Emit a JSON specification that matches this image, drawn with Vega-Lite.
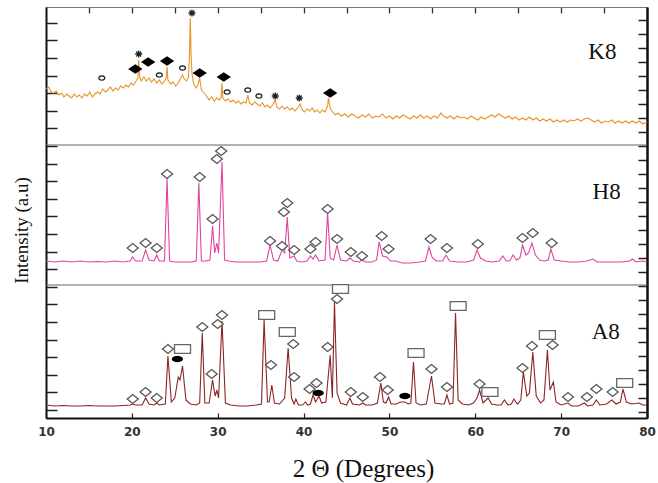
{
"$schema": "https://vega.github.io/schema/vega-lite/v6.json",
"width": 601, "height": 411,
"autosize": {"type": "none"},
"padding": {"left": 46, "top": 7, "right": 11, "bottom": 65},
"background": "white",
"config": {"view": {"stroke": "#555", "strokeWidth": 1}},
"datasets": {
"k8": [{"x":10,"y":329},{"x":10.3,"y":331},{"x":10.6,"y":326},{"x":10.9,"y":325},{"x":11.2,"y":327},{"x":11.5,"y":323},{"x":11.8,"y":325},{"x":12.1,"y":321},{"x":12.4,"y":324},{"x":12.7,"y":322},{"x":13,"y":320},{"x":13.3,"y":324},{"x":13.6,"y":321},{"x":13.9,"y":323},{"x":14.2,"y":320},{"x":14.5,"y":324},{"x":14.8,"y":322},{"x":15.1,"y":326},{"x":15.4,"y":321},{"x":15.7,"y":324},{"x":16,"y":326},{"x":16.3,"y":324},{"x":16.6,"y":329},{"x":16.9,"y":326},{"x":17.2,"y":328},{"x":17.5,"y":331},{"x":17.8,"y":327},{"x":18.1,"y":330},{"x":18.4,"y":328},{"x":18.7,"y":332},{"x":19,"y":330},{"x":19.3,"y":333},{"x":19.6,"y":331},{"x":19.9,"y":335},{"x":20.2,"y":333},{"x":20.5,"y":337},{"x":20.7,"y":340},{"x":20.8,"y":358},{"x":20.9,"y":342},{"x":21.1,"y":337},{"x":21.4,"y":341},{"x":21.7,"y":337},{"x":22,"y":340},{"x":22.3,"y":336},{"x":22.6,"y":339},{"x":22.9,"y":335},{"x":23.2,"y":338},{"x":23.5,"y":334},{"x":23.8,"y":337},{"x":24.0,"y":340},{"x":24.1,"y":351},{"x":24.2,"y":338},{"x":24.5,"y":334},{"x":24.8,"y":336},{"x":25.1,"y":332},{"x":25.4,"y":335},{"x":25.7,"y":340},{"x":25.9,"y":343},{"x":26.1,"y":339},{"x":26.4,"y":337},{"x":26.6,"y":341},{"x":26.7,"y":360},{"x":26.8,"y":400},{"x":26.9,"y":362},{"x":27.0,"y":345},{"x":27.2,"y":334},{"x":27.5,"y":330},{"x":27.7,"y":333},{"x":27.9,"y":340},{"x":28.1,"y":328},{"x":28.4,"y":325},{"x":28.7,"y":322},{"x":29,"y":318},{"x":29.3,"y":321},{"x":29.6,"y":317},{"x":29.9,"y":320},{"x":30.2,"y":318},{"x":30.4,"y":321},{"x":30.5,"y":335},{"x":30.6,"y":320},{"x":30.9,"y":317},{"x":31.2,"y":319},{"x":31.5,"y":316},{"x":31.8,"y":318},{"x":32.1,"y":315},{"x":32.4,"y":317},{"x":32.7,"y":314},{"x":33,"y":316},{"x":33.3,"y":315},{"x":33.5,"y":323},{"x":33.7,"y":315},{"x":34,"y":313},{"x":34.3,"y":316},{"x":34.6,"y":314},{"x":34.9,"y":312},{"x":35.2,"y":315},{"x":35.5,"y":311},{"x":35.8,"y":313},{"x":36.1,"y":310},{"x":36.4,"y":313},{"x":36.7,"y":318},{"x":36.9,"y":311},{"x":37.2,"y":309},{"x":37.5,"y":312},{"x":37.8,"y":309},{"x":38.1,"y":311},{"x":38.4,"y":308},{"x":38.7,"y":310},{"x":39,"y":307},{"x":39.3,"y":310},{"x":39.6,"y":314},{"x":39.8,"y":309},{"x":40.1,"y":306},{"x":40.4,"y":309},{"x":40.7,"y":307},{"x":41,"y":310},{"x":41.3,"y":306},{"x":41.6,"y":308},{"x":41.9,"y":305},{"x":42.2,"y":308},{"x":42.5,"y":306},{"x":42.8,"y":312},{"x":42.9,"y":320},{"x":43.1,"y":310},{"x":43.4,"y":306},{"x":43.7,"y":303},{"x":44,"y":305},{"x":44.4,"y":302},{"x":44.8,"y":304},{"x":45.2,"y":301},{"x":45.6,"y":304},{"x":46,"y":302},{"x":46.4,"y":300},{"x":46.8,"y":303},{"x":47.2,"y":301},{"x":47.6,"y":304},{"x":48,"y":300},{"x":48.4,"y":302},{"x":48.8,"y":301},{"x":49.2,"y":304},{"x":49.6,"y":300},{"x":50,"y":302},{"x":50.4,"y":299},{"x":50.8,"y":302},{"x":51.2,"y":300},{"x":51.6,"y":303},{"x":52,"y":301},{"x":52.4,"y":299},{"x":52.8,"y":302},{"x":53.2,"y":300},{"x":53.6,"y":303},{"x":54,"y":300},{"x":54.4,"y":302},{"x":54.8,"y":299},{"x":55.2,"y":302},{"x":55.6,"y":300},{"x":56,"y":305},{"x":56.3,"y":302},{"x":56.7,"y":300},{"x":57.1,"y":302},{"x":57.5,"y":299},{"x":57.9,"y":302},{"x":58.3,"y":300},{"x":58.7,"y":301},{"x":59.1,"y":299},{"x":59.5,"y":302},{"x":59.9,"y":300},{"x":60.3,"y":298},{"x":60.7,"y":301},{"x":61.1,"y":299},{"x":61.5,"y":301},{"x":61.9,"y":303},{"x":62.3,"y":301},{"x":62.7,"y":304},{"x":63.1,"y":302},{"x":63.5,"y":300},{"x":63.9,"y":302},{"x":64.3,"y":299},{"x":64.7,"y":301},{"x":65.1,"y":298},{"x":65.5,"y":300},{"x":65.9,"y":298},{"x":66.3,"y":301},{"x":66.7,"y":298},{"x":67.1,"y":300},{"x":67.5,"y":297},{"x":67.9,"y":299},{"x":68.3,"y":297},{"x":68.7,"y":299},{"x":69.1,"y":296},{"x":69.5,"y":298},{"x":69.9,"y":296},{"x":70.3,"y":298},{"x":70.7,"y":296},{"x":71.1,"y":298},{"x":71.5,"y":297},{"x":71.9,"y":299},{"x":72.3,"y":297},{"x":72.7,"y":299},{"x":73.1,"y":300},{"x":73.5,"y":298},{"x":73.9,"y":296},{"x":74.3,"y":298},{"x":74.7,"y":295},{"x":75.1,"y":297},{"x":75.5,"y":296},{"x":75.9,"y":298},{"x":76.3,"y":295},{"x":76.7,"y":297},{"x":77.1,"y":295},{"x":77.5,"y":297},{"x":77.9,"y":295},{"x":78.3,"y":297},{"x":78.7,"y":295},{"x":79.1,"y":297},{"x":79.5,"y":294},{"x":80,"y":296}],
"h8": [{"x":10,"y":157},{"x":11,"y":156},{"x":12,"y":157},{"x":13,"y":156},{"x":14,"y":157},{"x":15,"y":156},{"x":16,"y":156.5},{"x":17,"y":156},{"x":18,"y":157},{"x":19,"y":156},{"x":19.8,"y":157},{"x":20.1,"y":161},{"x":20.4,"y":157},{"x":21.2,"y":157},{"x":21.6,"y":168},{"x":22.0,"y":158},{"x":22.6,"y":157},{"x":22.9,"y":163},{"x":23.2,"y":157},{"x":23.8,"y":157},{"x":24.1,"y":239},{"x":24.4,"y":157},{"x":25,"y":156},{"x":26,"y":156},{"x":27,"y":156},{"x":27.5,"y":157},{"x":27.8,"y":235},{"x":28.1,"y":157},{"x":28.6,"y":157},{"x":29.1,"y":158},{"x":29.4,"y":192},{"x":29.65,"y":165},{"x":29.9,"y":175},{"x":30.1,"y":165},{"x":30.5,"y":256},{"x":30.8,"y":158},{"x":31.3,"y":157},{"x":32,"y":156},{"x":33,"y":156},{"x":34,"y":156},{"x":35,"y":156},{"x":35.7,"y":157},{"x":36.1,"y":173},{"x":36.5,"y":158},{"x":37,"y":157},{"x":37.5,"y":168},{"x":37.8,"y":165},{"x":38.1,"y":201},{"x":38.4,"y":160},{"x":38.9,"y":162},{"x":39.2,"y":157},{"x":39.8,"y":156},{"x":40.4,"y":157},{"x":40.8,"y":162},{"x":41.1,"y":159},{"x":41.4,"y":163},{"x":41.8,"y":157},{"x":42.5,"y":158},{"x":42.8,"y":205},{"x":43.1,"y":160},{"x":43.5,"y":158},{"x":43.9,"y":173},{"x":44.3,"y":158},{"x":45,"y":157},{"x":45.4,"y":160},{"x":45.8,"y":157},{"x":46.5,"y":156},{"x":46.8,"y":158},{"x":47.2,"y":156},{"x":48,"y":156},{"x":48.5,"y":158},{"x":48.8,"y":176},{"x":49.2,"y":162},{"x":49.7,"y":161},{"x":50.1,"y":157},{"x":50.7,"y":157},{"x":51.5,"y":155},{"x":52.5,"y":155},{"x":53.5,"y":156},{"x":54.2,"y":157},{"x":54.6,"y":171},{"x":55,"y":160},{"x":55.5,"y":157},{"x":56.2,"y":157},{"x":56.6,"y":163},{"x":57,"y":157},{"x":58,"y":156},{"x":59,"y":156},{"x":59.8,"y":158},{"x":60.2,"y":168},{"x":60.6,"y":160},{"x":61.2,"y":157},{"x":62,"y":156},{"x":62.8,"y":157},{"x":63.2,"y":162},{"x":63.6,"y":157},{"x":64,"y":157},{"x":64.4,"y":163},{"x":64.8,"y":158},{"x":65.2,"y":160},{"x":65.5,"y":173},{"x":65.9,"y":163},{"x":66.2,"y":165},{"x":66.6,"y":175},{"x":67,"y":163},{"x":67.5,"y":158},{"x":68,"y":157},{"x":68.5,"y":158},{"x":68.8,"y":169},{"x":69.2,"y":158},{"x":70,"y":157},{"x":71,"y":156},{"x":72,"y":156},{"x":73,"y":157},{"x":73.7,"y":159},{"x":74.2,"y":156},{"x":75,"y":156},{"x":76,"y":156},{"x":77,"y":156},{"x":78,"y":157},{"x":78.3,"y":159},{"x":78.7,"y":156},{"x":79.5,"y":157},{"x":80,"y":156}],
"a8": [{"x":10,"y":13},{"x":11,"y":12},{"x":12,"y":12.5},{"x":13,"y":12},{"x":14,"y":12},{"x":15,"y":12.5},{"x":16,"y":12},{"x":17,"y":12},{"x":18,"y":12},{"x":19,"y":12.5},{"x":19.8,"y":13},{"x":20.1,"y":14},{"x":20.4,"y":13},{"x":21.2,"y":13},{"x":21.6,"y":20},{"x":22.0,"y":14},{"x":22.6,"y":13},{"x":22.9,"y":15},{"x":23.2,"y":13},{"x":23.9,"y":14},{"x":24.2,"y":62},{"x":24.6,"y":16},{"x":25.0,"y":20},{"x":25.4,"y":41},{"x":25.6,"y":38},{"x":25.9,"y":52},{"x":26.3,"y":18},{"x":26.8,"y":14},{"x":27.5,"y":13},{"x":27.9,"y":15},{"x":28.2,"y":85},{"x":28.5,"y":15},{"x":29.0,"y":15},{"x":29.4,"y":38},{"x":29.7,"y":22},{"x":29.9,"y":28},{"x":30.1,"y":20},{"x":30.5,"y":97},{"x":30.9,"y":15},{"x":31.5,"y":13},{"x":32.5,"y":12},{"x":33.5,"y":12},{"x":34.5,"y":13},{"x":35.1,"y":14},{"x":35.4,"y":98},{"x":35.8,"y":16},{"x":36.0,"y":16},{"x":36.3,"y":33},{"x":36.6,"y":15},{"x":37.2,"y":14},{"x":37.8,"y":20},{"x":38.2,"y":70},{"x":38.6,"y":20},{"x":38.9,"y":14},{"x":39.1,"y":19},{"x":39.4,"y":13},{"x":39.9,"y":13},{"x":40.2,"y":16},{"x":40.5,"y":13},{"x":40.8,"y":14},{"x":41.1,"y":23},{"x":41.4,"y":16},{"x":41.8,"y":22},{"x":42.1,"y":15},{"x":42.6,"y":16},{"x":43.1,"y":63},{"x":43.35,"y":20},{"x":43.6,"y":116},{"x":43.9,"y":25},{"x":44.3,"y":15},{"x":45,"y":13},{"x":45.4,"y":20},{"x":45.7,"y":14},{"x":46.5,"y":13},{"x":46.9,"y":15},{"x":47.2,"y":13},{"x":48,"y":13},{"x":48.6,"y":15},{"x":49.0,"y":35},{"x":49.3,"y":16},{"x":49.6,"y":15},{"x":49.9,"y":21},{"x":50.2,"y":14},{"x":50.8,"y":14},{"x":51.3,"y":16},{"x":51.8,"y":16},{"x":52.2,"y":14},{"x":52.5,"y":15},{"x":52.8,"y":56},{"x":53.1,"y":15},{"x":53.6,"y":13},{"x":54.3,"y":14},{"x":54.9,"y":42},{"x":55.3,"y":15},{"x":56,"y":14},{"x":56.4,"y":14},{"x":56.7,"y":23},{"x":57.0,"y":14},{"x":57.4,"y":15},{"x":57.7,"y":105},{"x":58.0,"y":18},{"x":58.5,"y":14},{"x":59.2,"y":13},{"x":59.8,"y":15},{"x":60.2,"y":20},{"x":60.5,"y":28},{"x":60.9,"y":15},{"x":61.5,"y":20},{"x":61.9,"y":14},{"x":62.5,"y":13},{"x":63.0,"y":13},{"x":63.4,"y":18},{"x":63.8,"y":13},{"x":64.2,"y":14},{"x":64.5,"y":19},{"x":64.9,"y":14},{"x":65.3,"y":18},{"x":65.6,"y":46},{"x":66.0,"y":22},{"x":66.3,"y":25},{"x":66.7,"y":66},{"x":67.1,"y":22},{"x":67.6,"y":15},{"x":68.0,"y":18},{"x":68.4,"y":68},{"x":68.7,"y":28},{"x":69.1,"y":36},{"x":69.4,"y":16},{"x":70,"y":13},{"x":70.8,"y":15},{"x":71.2,"y":12},{"x":72,"y":12},{"x":72.7,"y":15},{"x":73.1,"y":12},{"x":73.7,"y":13},{"x":74.1,"y":18},{"x":74.5,"y":13},{"x":75.3,"y":14},{"x":75.9,"y":18},{"x":76.4,"y":14},{"x":76.9,"y":16},{"x":77.2,"y":29},{"x":77.6,"y":16},{"x":78.2,"y":14},{"x":79.1,"y":15},{"x":79.5,"y":13},{"x":80,"y":13}],
"marks": [
{"x":16.5,"y":340,"m":"oc"},{"x":20.4,"y":349,"m":"fd"},{"x":20.8,"y":364,"m":"as"},{"x":21.9,"y":356,"m":"fd"},{"x":23.2,"y":343,"m":"oc"},{"x":24.1,"y":357,"m":"fd"},{"x":25.9,"y":350,"m":"oc"},{"x":27.0,"y":405,"m":"as"},{"x":27.9,"y":345,"m":"fd"},{"x":30.7,"y":341,"m":"fd"},{"x":31.1,"y":326,"m":"oc"},{"x":33.5,"y":328,"m":"oc"},{"x":34.8,"y":322,"m":"oc"},{"x":36.7,"y":322,"m":"as"},{"x":39.5,"y":320,"m":"as"},{"x":43.1,"y":325,"m":"fd"},
{"x":20.1,"y":170,"m":"od"},{"x":21.6,"y":175,"m":"od"},{"x":22.9,"y":170,"m":"od"},{"x":24.1,"y":244,"m":"od"},{"x":27.9,"y":241,"m":"od"},{"x":29.4,"y":199,"m":"od"},{"x":29.9,"y":259,"m":"od"},{"x":30.4,"y":267,"m":"od"},{"x":36.1,"y":177,"m":"od"},{"x":37.5,"y":172,"m":"od"},{"x":37.7,"y":206,"m":"od"},{"x":38.1,"y":215,"m":"od"},{"x":38.9,"y":168,"m":"od"},{"x":40.8,"y":169,"m":"od"},{"x":41.4,"y":176,"m":"od"},{"x":42.8,"y":209,"m":"od"},{"x":43.9,"y":179,"m":"od"},{"x":45.5,"y":166,"m":"od"},{"x":46.8,"y":162,"m":"od"},{"x":49.1,"y":182,"m":"od"},{"x":49.9,"y":169,"m":"od"},{"x":54.8,"y":179,"m":"od"},{"x":56.7,"y":170,"m":"od"},{"x":60.3,"y":174,"m":"od"},{"x":65.5,"y":180,"m":"od"},{"x":66.7,"y":185,"m":"od"},{"x":68.9,"y":175,"m":"od"},
{"x":20.1,"y":19,"m":"od"},{"x":21.6,"y":26,"m":"od"},{"x":22.9,"y":20,"m":"od"},{"x":24.2,"y":69,"m":"od"},{"x":28.2,"y":91,"m":"od"},{"x":29.3,"y":44,"m":"od"},{"x":30.0,"y":94,"m":"od"},{"x":30.5,"y":103,"m":"od"},{"x":36.2,"y":53,"m":"od"},{"x":38.8,"y":74,"m":"od"},{"x":38.9,"y":41,"m":"od"},{"x":40.7,"y":29,"m":"od"},{"x":41.5,"y":35,"m":"od"},{"x":42.8,"y":71,"m":"od"},{"x":43.9,"y":119,"m":"od"},{"x":45.5,"y":26,"m":"od"},{"x":46.9,"y":21,"m":"od"},{"x":48.9,"y":41,"m":"od"},{"x":49.8,"y":28,"m":"od"},{"x":54.9,"y":49,"m":"od"},{"x":56.7,"y":31,"m":"od"},{"x":60.5,"y":34,"m":"od"},{"x":65.5,"y":50,"m":"od"},{"x":66.6,"y":72,"m":"od"},{"x":69.0,"y":73,"m":"od"},{"x":70.8,"y":21,"m":"od"},{"x":73.0,"y":21,"m":"od"},{"x":74.1,"y":29,"m":"od"},{"x":76.0,"y":26,"m":"od"},
{"x":25.9,"y":69,"m":"sq"},{"x":35.7,"y":103,"m":"sq"},{"x":38.1,"y":86,"m":"sq"},{"x":44.3,"y":129,"m":"sq"},{"x":53.1,"y":65,"m":"sq"},{"x":58.0,"y":112,"m":"sq"},{"x":61.7,"y":26,"m":"sq"},{"x":68.4,"y":83,"m":"sq"},{"x":77.4,"y":35,"m":"sq"},
{"x":25.3,"y":59,"m":"fe"},{"x":41.7,"y":25,"m":"fe"},{"x":51.8,"y":22,"m":"fe"}
],
"labels": [{"x":74.8,"y":366,"t":"K8"},{"x":75.3,"y":226,"t":"H8"},{"x":75.2,"y":86,"t":"A8"}],
"seps": [{"y":273},{"y":133}]
},
"layer": [
{"data": {"name": "seps"}, "mark": {"type": "rule", "color": "#666", "strokeWidth": 1.2},
 "encoding": {"y": {"field": "y", "type": "quantitative", "scale": {"domain": [0, 411], "nice": false, "zero": false}, "axis": null}}},
{"data": {"name": "k8"}, "mark": {"type": "line", "color": "#E8922A", "strokeWidth": 1.1},
 "encoding": {
  "x": {"field": "x", "type": "quantitative", "scale": {"domain": [10, 80], "nice": false, "zero": false},
        "axis": {"orient": "bottom", "values": [10,20,30,40,50,60,70,80], "tickSize": -5, "tickWidth": 1.2, "tickColor": "#222", "labelFont": "DejaVu Sans", "labelFontWeight": "bold", "labelFontSize": 12, "labelColor": "#333", "labelPadding": 13, "labelFlush": false, "labelOverlap": false, "domainColor": "#111", "domainWidth": 2, "grid": false, "title": "2 Θ (Degrees)", "titleFont": "Liberation Serif", "titleFontSize": 25, "titleFontWeight": "normal", "titleColor": "#111", "titleBaseline": "alphabetic", "titleX": 317, "titleY": 58}},
  "y": {"field": "y", "type": "quantitative", "scale": {"domain": [0, 411], "nice": false, "zero": false},
        "axis": {"orient": "left", "values": [395.2,377.6,360,342.4,324.8,307.2,289.6,272,254.4,236.8,219.2,201.6,184,166.4,148.8,131.2,113.6,96,78.4,60.8,43.2,25.6,8], "tickSize": -11, "tickWidth": 1.5, "tickColor": "#222", "labels": false, "domainColor": "#111", "domainWidth": 2, "grid": false, "title": "Intensity (a.u)", "titleFont": "Liberation Serif", "titleFontSize": 19, "titleFontWeight": "normal", "titleColor": "#111", "titleX": -15, "titleY": 223}}
 }},
{"data": {"name": "h8"}, "mark": {"type": "line", "color": "#E0449E", "strokeWidth": 1.1},
 "encoding": {"x": {"field": "x", "type": "quantitative", "axis": null}, "y": {"field": "y", "type": "quantitative", "axis": null}}},
{"data": {"name": "a8"}, "mark": {"type": "line", "color": "#8A2525", "strokeWidth": 1.1},
 "encoding": {"x": {"field": "x", "type": "quantitative", "axis": null}, "y": {"field": "y", "type": "quantitative", "axis": null}}},
{"data": {"name": "marks"}, "mark": {"type": "point", "filled": true, "strokeWidth": 1.3, "opacity": 1},
 "encoding": {
  "x": {"field": "x", "type": "quantitative", "axis": null},
  "y": {"field": "y", "type": "quantitative", "axis": null},
  "shape": {"field": "m", "type": "nominal", "legend": null, "scale": {"domain": ["od","fd","oc","as","sq","fe"], "range": ["M-1,0L0,-0.8L1,0L0,0.8Z", "M-1,0L0,-0.65L1,0L0,0.65Z", "M1,0L0.87,0.35L0.5,0.61L0,0.7L-0.5,0.61L-0.87,0.35L-1,0L-0.87,-0.35L-0.5,-0.61L0,-0.7L0.5,-0.61L0.87,-0.35Z", "M-1,0L1,0M0,-1L0,1M-0.7,-0.7L0.7,0.7M-0.7,0.7L0.7,-0.7", "M-1,-0.55L1,-0.55L1,0.55L-1,0.55Z", "M1,0L0.87,0.25L0.5,0.43L0,0.5L-0.5,0.43L-0.87,0.25L-1,0L-0.87,-0.25L-0.5,-0.43L0,-0.5L0.5,-0.43L0.87,-0.25Z"]}},
  "size": {"field": "m", "type": "nominal", "legend": null, "scale": {"type": "ordinal", "domain": ["od","fd","oc","as","sq","fe"], "range": [121, 144, 36, 49, 256, 100]}},
  "fill": {"field": "m", "type": "nominal", "legend": null, "scale": {"domain": ["od","fd","oc","as","sq","fe"], "range": ["white","black","white","black","white","black"]}},
  "stroke": {"field": "m", "type": "nominal", "legend": null, "scale": {"domain": ["od","fd","oc","as","sq","fe"], "range": ["#555","black","#222","#222","#666","black"]}}
 }},
{"data": {"name": "labels"}, "mark": {"type": "text", "font": "Liberation Serif", "fontSize": 23, "color": "#111", "align": "center", "baseline": "middle"},
 "encoding": {
  "x": {"field": "x", "type": "quantitative", "axis": {"orient": "top", "values": [15,20,25,30,35,40,45,50,55,60,65,70,75], "tickSize": -6, "tickWidth": 1.3, "tickColor": "#333", "labels": false, "domainColor": "#777", "domainWidth": 1, "grid": false, "title": null}},
  "y": {"field": "y", "type": "quantitative", "axis": {"orient": "right", "values": [398,384,370,356,342,328,314,300,286,272,258,244,230,216,202,188,174,160,146,132,118,104,90,76,62,48,34,20,6], "tickSize": -9, "tickWidth": 1.5, "tickColor": "#222", "labels": false, "domainColor": "#111", "domainWidth": 2.5, "grid": false, "title": null}},
  "text": {"field": "t", "type": "nominal"}
 }}
],
"resolve": {"axis": {"x": "independent", "y": "independent"}}
}
